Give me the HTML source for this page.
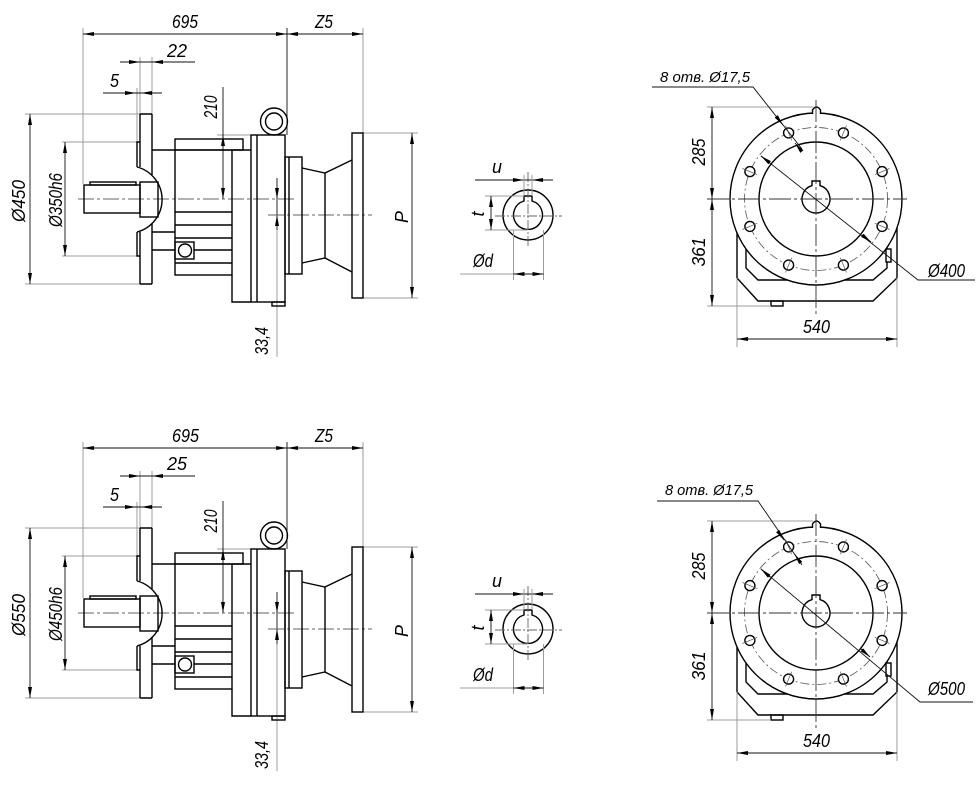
<!DOCTYPE html>
<html><head><meta charset="utf-8">
<style>
html,body{margin:0;padding:0;background:#fff;}
svg{display:block;}
.m{stroke:#000;stroke-width:1.4;fill:none;}
.w{stroke:#000;stroke-width:1.4;fill:#fff;}
.d{stroke:#111;stroke-width:0.9;fill:none;}
.e{stroke:#9c9c9c;stroke-width:1;fill:none;}
.c{stroke:#666;stroke-width:0.9;fill:none;stroke-dasharray:16 3 3 3;}
.k{stroke:#555;stroke-width:0.8;fill:none;stroke-dasharray:9 3 2 3;}
.x{stroke:#555;stroke-width:0.7;fill:none;}
.ar{stroke:#111;stroke-width:0.9;fill:none;marker-end:url(#a);}
.dd{stroke:#111;stroke-width:0.9;fill:none;marker-start:url(#a);marker-end:url(#a);}
text{font-family:"Liberation Sans","DejaVu Sans",sans-serif;font-style:italic;font-size:18px;fill:#000;}
</style></head>
<body>
<svg width="980" height="809" viewBox="0 0 980 809" xmlns="http://www.w3.org/2000/svg">
<defs>
<marker id="a" viewBox="0 0 11 4" refX="11" refY="2" markerWidth="11" markerHeight="4" markerUnits="userSpaceOnUse" orient="auto-start-reverse"><path d="M0,0L11,2L0,4z" fill="#000"/></marker>
</defs>

<!-- ================= TOP GEOMETRY ================= -->
<g>
<path class="e" d="M83,28V184 M363,28V133 M140,57V114 M152,57V114 M137,88V142 M25,114H140 M25,284H140 M62,142H137 M62,256H137 M217,135H252 M363,133H418 M363,298H418 M277,230V357"/>
<path class="d" d="M287,28V135 M277,178V230"/>
<path class="dd" d="M83,34H287"/>
<path class="dd" d="M287,34H363"/>
<path class="d" d="M120,62H195 M103,93H162 M223,87V199"/>
<path class="ar" d="M130,62H140"/><path class="ar" d="M162,62H152"/>
<path class="ar" d="M126,93H136"/><path class="ar" d="M151,93H141"/>
<path class="dd" d="M30,114V284"/>
<path class="dd" d="M65,142V256"/>
<path class="ar" d="M223,147V135"/><path class="ar" d="M223,188V199"/>
<path class="dd" d="M412,133V298"/>
<path class="ar" d="M277,188V199"/><path class="ar" d="M277,226V215"/>
<path class="c" d="M78,199H295 M268,215H372"/>
<path class="m" d="M140,114H152 M140,284H152 M140,114V167 M140,232V284 M152,114V175 M152,223V284"/>
<path class="m" d="M140,142H137V167 M137,232V256H140"/>
<path class="m" d="M137,167A33.6,33.6 0 0 1 137,232"/>
<rect class="m" x="140" y="182" width="18" height="35"/>
<rect class="m" x="84" y="185" width="56" height="28"/>
<rect class="m" x="90" y="182" width="46" height="3"/>
<path class="m" d="M152,150H175 M152,232H175 M152,250H175"/>
<rect class="m" x="175" y="139" width="68" height="11"/>
<rect class="m" x="175" y="150" width="57" height="125"/>
<path class="m" d="M175,212H232 M175,225H232 M175,238H232 M194,250H232 M175,263H232"/>
<rect class="m" x="175" y="242" width="19" height="17"/>
<circle class="m" cx="185" cy="250.5" r="6.5"/>
<path class="m" d="M232,150H251 M232,275V302H251"/>
<rect class="m" x="251" y="135" width="34" height="167"/>
<path class="m" d="M257,135V302"/>
<rect class="m" x="272" y="302" width="13" height="4"/>
<circle class="m" cx="274" cy="121.5" r="13.5"/>
<circle class="m" cx="274" cy="121.5" r="8.5"/>
<rect class="m" x="285" y="157" width="17" height="117"/>
<path class="m" d="M289,157V274"/>
<path class="m" d="M302,168L325,173L352,160 M302,263L325,258L352,272 M325,173V258"/>
<rect class="m" x="352" y="133" width="11" height="165"/>

<circle class="m" cx="528" cy="215" r="25"/>
<path class="m" d="M524,201L524,196L532,196L532,201A14.5,14.5 0 1 1 524,201Z"/>
<path class="c" d="M495,216H562 M528,172V247" style="stroke-dasharray:10 2 2 2"/>
<path class="d" d="M475,180H553"/>
<path class="ar" d="M514,180H524"/><path class="ar" d="M542,180H532"/>
<path class="e" d="M524,175V196 M532,175V196 M485,196H524 M485,230H528 M513.5,230V280 M543.5,230V280 M460,274H513"/>
<path class="dd" d="M491,196V230"/>
<path class="dd" d="M513.5,274H543.5"/>

<path class="m" d="M737,200V278L758,301H873L897,278V200 M746,230V268L758,280H873L887,268V230"/>
<rect class="m" x="771" y="301" width="12" height="5"/>
<circle class="w" cx="816" cy="199" r="86"/>
<circle class="m" cx="816" cy="199" r="57"/>
<circle class="k" cx="816" cy="199" r="71.5"/>
<g class="w">
<circle cx="788.6" cy="132.9" r="5"/><circle cx="843.4" cy="132.9" r="5"/>
<circle cx="749.9" cy="171.6" r="5"/><circle cx="882.1" cy="171.6" r="5"/>
<circle cx="749.9" cy="226.4" r="5"/><circle cx="882.1" cy="226.4" r="5"/>
<circle cx="788.6" cy="265.1" r="5"/><circle cx="843.4" cy="265.1" r="5"/>
</g>
<path class="x" d="M785.5,125.5L791.7,140.3 M846.5,125.5L840.3,140.3 M742.5,168.5L757.3,174.7 M889.5,168.5L874.7,174.7 M742.5,229.5L757.3,223.3 M889.5,229.5L874.7,223.3 M785.5,272.5L791.7,257.7 M846.5,272.5L840.3,257.7"/>
<path class="m" d="M812,185.6L812,181L820,181L820,185.6A14,14 0 1 1 812,185.6Z"/>
<path class="w" d="M812.5,114L812.5,110Q816.5,104 820.5,110L820.5,114"/>
<rect class="w" x="886" y="249" width="5" height="13"/>
<path class="c" d="M707,199H907 M816,100V315" style="stroke:#333;stroke-dasharray:22 3 3 3"/>
<path class="e" d="M707,107H813 M707,306H771 M737,278V347 M897,278V347"/>
<path class="dd" d="M712,107V199"/>
<path class="dd" d="M712,199V306"/>
<path class="dd" d="M737,339H897"/>
</g>

<path class="d" d="M761,156L918,280H975"/>
<path class="ar" d="M770,163L761,156"/><path class="ar" d="M862,235L871,242"/>
<path class="d" d="M652,87H753L802,149"/>
<path class="ar" d="M777,117.4L783,125"/><path class="ar" d="M801,150.5L795,143"/>

<!-- ================= BOTTOM GEOMETRY ================= -->
<g transform="translate(0,414)">
<path class="e" d="M83,28V184 M363,28V133 M140,57V114 M152,57V114 M137,88V142 M25,114H140 M25,284H140 M62,142H137 M62,256H137 M217,135H252 M363,133H418 M363,298H418 M277,230V357"/>
<path class="d" d="M287,28V135 M277,178V230"/>
<path class="dd" d="M83,34H287"/>
<path class="dd" d="M287,34H363"/>
<path class="d" d="M120,62H195 M103,93H162 M223,87V199"/>
<path class="ar" d="M130,62H140"/><path class="ar" d="M162,62H152"/>
<path class="ar" d="M126,93H136"/><path class="ar" d="M151,93H141"/>
<path class="dd" d="M30,114V284"/>
<path class="dd" d="M65,142V256"/>
<path class="ar" d="M223,147V135"/><path class="ar" d="M223,188V199"/>
<path class="dd" d="M412,133V298"/>
<path class="ar" d="M277,188V199"/><path class="ar" d="M277,226V215"/>
<path class="c" d="M78,199H295 M268,215H372"/>
<path class="m" d="M140,114H152 M140,284H152 M140,114V167 M140,232V284 M152,114V175 M152,223V284"/>
<path class="m" d="M140,142H137V167 M137,232V256H140"/>
<path class="m" d="M137,167A33.6,33.6 0 0 1 137,232"/>
<rect class="m" x="140" y="182" width="18" height="35"/>
<rect class="m" x="84" y="185" width="56" height="28"/>
<rect class="m" x="90" y="182" width="46" height="3"/>
<path class="m" d="M152,150H175 M152,232H175 M152,250H175"/>
<rect class="m" x="175" y="139" width="68" height="11"/>
<rect class="m" x="175" y="150" width="57" height="125"/>
<path class="m" d="M175,212H232 M175,225H232 M175,238H232 M194,250H232 M175,263H232"/>
<rect class="m" x="175" y="242" width="19" height="17"/>
<circle class="m" cx="185" cy="250.5" r="6.5"/>
<path class="m" d="M232,150H251 M232,275V302H251"/>
<rect class="m" x="251" y="135" width="34" height="167"/>
<path class="m" d="M257,135V302"/>
<rect class="m" x="272" y="302" width="13" height="4"/>
<circle class="m" cx="274" cy="121.5" r="13.5"/>
<circle class="m" cx="274" cy="121.5" r="8.5"/>
<rect class="m" x="285" y="157" width="17" height="117"/>
<path class="m" d="M289,157V274"/>
<path class="m" d="M302,168L325,173L352,160 M302,263L325,258L352,272 M325,173V258"/>
<rect class="m" x="352" y="133" width="11" height="165"/>

<circle class="m" cx="528" cy="215" r="25"/>
<path class="m" d="M524,201L524,196L532,196L532,201A14.5,14.5 0 1 1 524,201Z"/>
<path class="c" d="M495,216H562 M528,172V247" style="stroke-dasharray:10 2 2 2"/>
<path class="d" d="M475,180H553"/>
<path class="ar" d="M514,180H524"/><path class="ar" d="M542,180H532"/>
<path class="e" d="M524,175V196 M532,175V196 M485,196H524 M485,230H528 M513.5,230V280 M543.5,230V280 M460,274H513"/>
<path class="dd" d="M491,196V230"/>
<path class="dd" d="M513.5,274H543.5"/>

<path class="m" d="M737,200V278L758,301H873L897,278V200 M746,230V268L758,280H873L887,268V230"/>
<rect class="m" x="771" y="301" width="12" height="5"/>
<circle class="w" cx="816" cy="199" r="86"/>
<circle class="m" cx="816" cy="199" r="57"/>
<circle class="k" cx="816" cy="199" r="71.5"/>
<g class="w">
<circle cx="788.6" cy="132.9" r="5"/><circle cx="843.4" cy="132.9" r="5"/>
<circle cx="749.9" cy="171.6" r="5"/><circle cx="882.1" cy="171.6" r="5"/>
<circle cx="749.9" cy="226.4" r="5"/><circle cx="882.1" cy="226.4" r="5"/>
<circle cx="788.6" cy="265.1" r="5"/><circle cx="843.4" cy="265.1" r="5"/>
</g>
<path class="x" d="M785.5,125.5L791.7,140.3 M846.5,125.5L840.3,140.3 M742.5,168.5L757.3,174.7 M889.5,168.5L874.7,174.7 M742.5,229.5L757.3,223.3 M889.5,229.5L874.7,223.3 M785.5,272.5L791.7,257.7 M846.5,272.5L840.3,257.7"/>
<path class="m" d="M812,185.6L812,181L820,181L820,185.6A14,14 0 1 1 812,185.6Z"/>
<path class="w" d="M812.5,114L812.5,110Q816.5,104 820.5,110L820.5,114"/>
<rect class="w" x="886" y="249" width="5" height="13"/>
<path class="c" d="M707,199H907 M816,100V315" style="stroke:#333;stroke-dasharray:22 3 3 3"/>
<path class="e" d="M707,107H813 M707,306H771 M737,278V347 M897,278V347"/>
<path class="dd" d="M712,107V199"/>
<path class="dd" d="M712,199V306"/>
<path class="dd" d="M737,339H897"/>
</g>

<path class="d" d="M761,569L920,702H973"/>
<path class="ar" d="M770,577L761,569"/><path class="ar" d="M861,649L870,657"/>
<path class="d" d="M657,501H758L802,565"/>
<path class="ar" d="M778,531.5L784,540"/><path class="ar" d="M800,562L794.5,554"/>

<!-- ================= TEXT TOP ================= -->
<text x="172" y="28" textLength="26" lengthAdjust="spacingAndGlyphs">695</text>
<text x="315" y="28" textLength="18" lengthAdjust="spacingAndGlyphs">Z5</text>
<text x="167" y="57" textLength="20" lengthAdjust="spacingAndGlyphs">22</text>
<text x="110" y="87" textLength="9" lengthAdjust="spacingAndGlyphs">5</text>
<text transform="translate(217,107) rotate(-90)" text-anchor="middle" textLength="23" lengthAdjust="spacingAndGlyphs">210</text>
<text transform="translate(25,201) rotate(-90)" text-anchor="middle" textLength="42" lengthAdjust="spacingAndGlyphs">Ø450</text>
<text transform="translate(62,200) rotate(-90)" text-anchor="middle" textLength="54" lengthAdjust="spacingAndGlyphs">Ø350h6</text>
<text transform="translate(268,341) rotate(-90)" text-anchor="middle" textLength="28" lengthAdjust="spacingAndGlyphs">33,4</text>
<text transform="translate(408,217) rotate(-90)" text-anchor="middle">P</text>
<text x="492" y="173" textLength="10" lengthAdjust="spacingAndGlyphs">u</text>
<text transform="translate(484,214) rotate(-90)" text-anchor="middle">t</text>
<text x="473" y="267" textLength="20" lengthAdjust="spacingAndGlyphs">Ød</text>
<text x="660" y="82" style="font-size:15px" textLength="90" lengthAdjust="spacingAndGlyphs">8 отв. Ø17,5</text>
<text transform="translate(705,152) rotate(-90)" text-anchor="middle" textLength="27" lengthAdjust="spacingAndGlyphs">285</text>
<text transform="translate(705,252) rotate(-90)" text-anchor="middle" textLength="29" lengthAdjust="spacingAndGlyphs">361</text>
<text x="803" y="333" textLength="27" lengthAdjust="spacingAndGlyphs">540</text>
<text x="928" y="277" textLength="37" lengthAdjust="spacingAndGlyphs">Ø400</text>

<!-- ================= TEXT BOTTOM ================= -->
<text x="172" y="442" textLength="27" lengthAdjust="spacingAndGlyphs">695</text>
<text x="315" y="442" textLength="18" lengthAdjust="spacingAndGlyphs">Z5</text>
<text x="167" y="470" textLength="20" lengthAdjust="spacingAndGlyphs">25</text>
<text x="110" y="501" textLength="9" lengthAdjust="spacingAndGlyphs">5</text>
<text transform="translate(217,521) rotate(-90)" text-anchor="middle" textLength="23" lengthAdjust="spacingAndGlyphs">210</text>
<text transform="translate(25,615) rotate(-90)" text-anchor="middle" textLength="42" lengthAdjust="spacingAndGlyphs">Ø550</text>
<text transform="translate(62,614) rotate(-90)" text-anchor="middle" textLength="54" lengthAdjust="spacingAndGlyphs">Ø450h6</text>
<text transform="translate(268,755) rotate(-90)" text-anchor="middle" textLength="28" lengthAdjust="spacingAndGlyphs">33,4</text>
<text transform="translate(408,631) rotate(-90)" text-anchor="middle">P</text>
<text x="492" y="587" textLength="10" lengthAdjust="spacingAndGlyphs">u</text>
<text transform="translate(484,628) rotate(-90)" text-anchor="middle">t</text>
<text x="473" y="681" textLength="20" lengthAdjust="spacingAndGlyphs">Ød</text>
<text x="665" y="495" style="font-size:15px" textLength="88" lengthAdjust="spacingAndGlyphs">8 отв. Ø17,5</text>
<text transform="translate(705,566) rotate(-90)" text-anchor="middle" textLength="27" lengthAdjust="spacingAndGlyphs">285</text>
<text transform="translate(705,666) rotate(-90)" text-anchor="middle" textLength="29" lengthAdjust="spacingAndGlyphs">361</text>
<text x="803" y="747" textLength="27" lengthAdjust="spacingAndGlyphs">540</text>
<text x="928" y="695" textLength="37" lengthAdjust="spacingAndGlyphs">Ø500</text>
</svg>
</body></html>
